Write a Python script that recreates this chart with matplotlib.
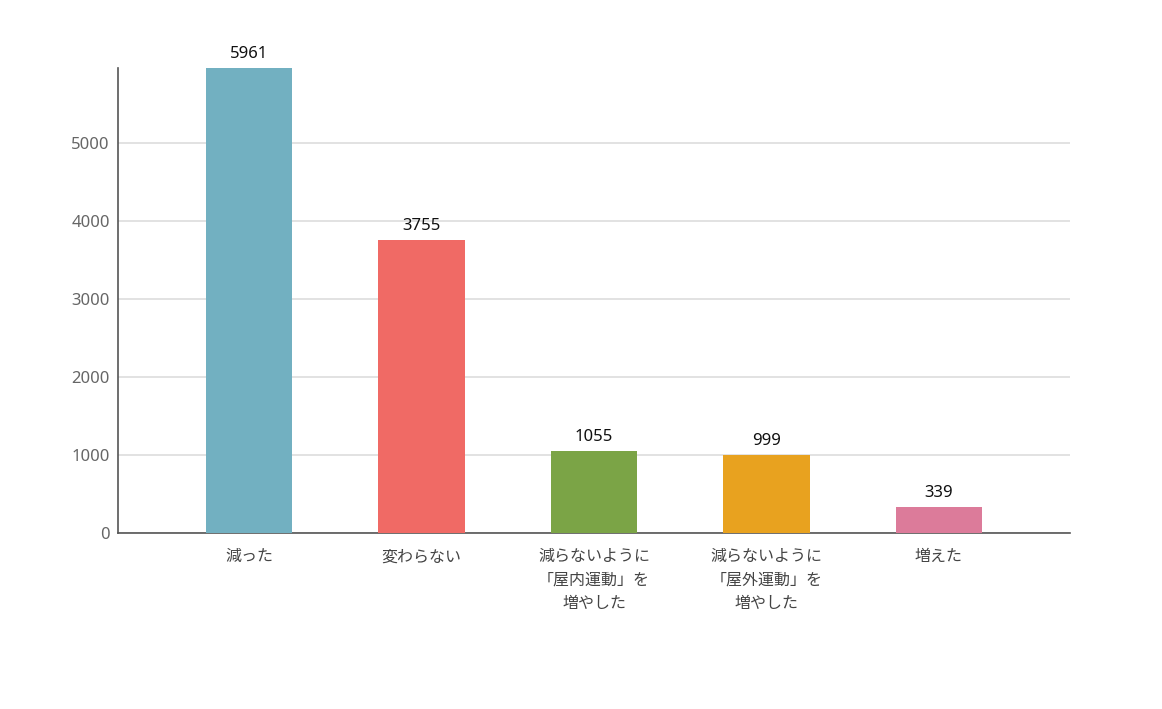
import matplotlib
matplotlib.use('Agg')
import matplotlib.pyplot as plt

plt.rcParams['font.family'] = ['Noto Sans CJK JP', 'DejaVu Sans']

categories = ['減った', '変わらない', '減らないように\n「屋内運動」を\n増やした',
              '減らないように\n「屋外運動」を\n増やした', '増えた']
values = [5961, 3755, 1055, 999, 339]
colors = ['#72b0c1', '#f06a65', '#7ba446', '#e8a21f', '#dc7b9a']
yticks = [0, 1000, 2000, 3000, 4000, 5000]

fig = plt.figure(figsize=(11.62, 7.09), dpi=100)
ax = fig.add_axes([118/1162, 1 - 533/709, (1070-118)/1162, (533-68)/709])

x = range(len(categories))
bars = ax.bar(x, values, width=0.5, color=colors, zorder=3)
for xi, v in zip(x, values):
    ax.text(xi, v + 75, str(v), ha='center', va='bottom', fontsize=12,
            color='#111111', family=['Noto Sans', 'DejaVu Sans'])

ax.set_xlim(-0.76, len(categories) - 1 + 0.76)
ax.set_ylim(0, max(values))
ax.set_yticks(yticks)
ax.set_yticklabels([str(t) for t in yticks], family=['Noto Sans', 'DejaVu Sans'])
ax.set_xticks(list(x))
ax.set_xticklabels(categories, fontsize=11.5, color='#444444', linespacing=1.5)
ax.tick_params(axis='y', labelsize=12, labelcolor='#666666', length=0, pad=6)
ax.tick_params(axis='x', length=0, pad=11)
ax.yaxis.grid(True, color='#dddddd', linewidth=1.2, zorder=0)
ax.set_axisbelow(True)
for s in ['top', 'right']:
    ax.spines[s].set_visible(False)
for s in ['left', 'bottom']:
    ax.spines[s].set_color('#555555')
    ax.spines[s].set_linewidth(1.2)

fig.savefig('out.png', dpi=100)
